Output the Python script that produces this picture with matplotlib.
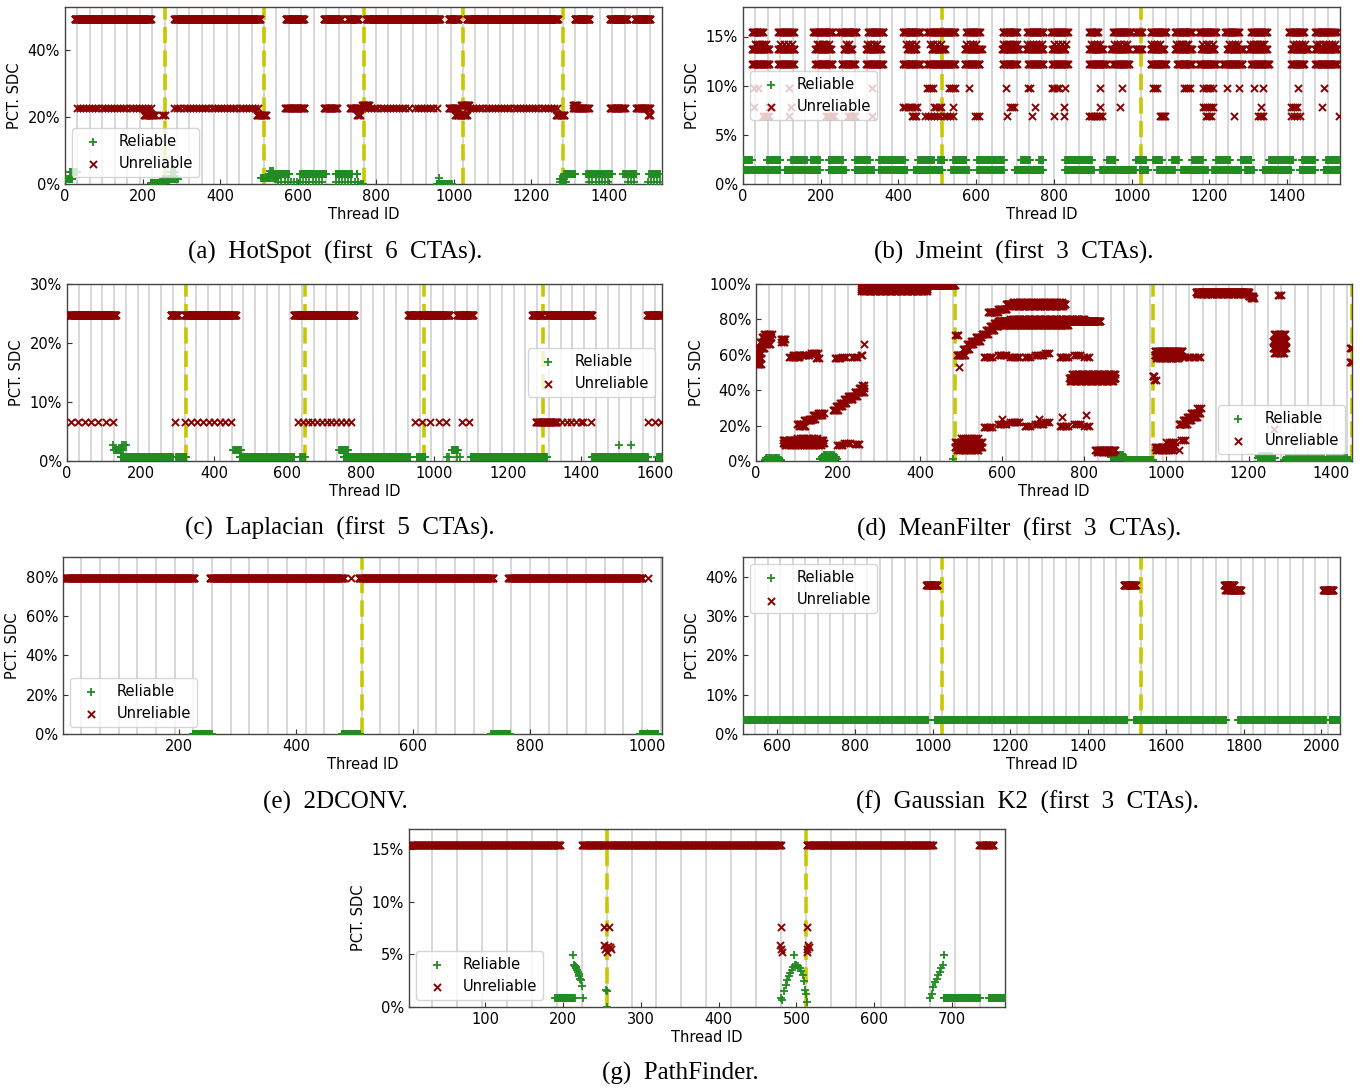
import numpy as np
import matplotlib
matplotlib.use("Agg")
import matplotlib.pyplot as plt
from matplotlib.ticker import PercentFormatter

# ---------------- DATA (runs: start thread, end thread, step, pct SDC) ----------------
# (a) HotSpot
HS_REL = [(0, 19, 1, 0.015), (253, 292, 2, 0.015), (13, 31, 3, 0.036), (272, 285, 3, 0.036),
          (220, 259, 1, 0.002), (504, 549, 3, 0.017), (528, 535, 3, 0.038),
          (524, 577, 1, 0.030), (605, 672, 1, 0.030), (697, 738, 1, 0.030), (750, 752, 1, 0.030),
          (549, 666, 8, 0.005), (697, 760, 8, 0.005), (956, 995, 1, 0.001), (762, 766, 1, 0.001),
          (962, 962, 1, 0.017), (1274, 1285, 2, 0.015), (1274, 1290, 4, 0.005),
          (1285, 1313, 1, 0.030), (1341, 1408, 1, 0.030), (1436, 1469, 1, 0.030), (1503, 1530, 1, 0.030),
          (1349, 1400, 8, 0.005), (1449, 1465, 8, 0.005), (1500, 1536, 8, 0.005)]
HS_UNREL = [(25, 220, 1, 0.495), (281, 502, 1, 0.495), (568, 614, 1, 0.495), (666, 711, 1, 0.495),
            (727, 755, 1, 0.495), (775, 964, 1, 0.495), (987, 1012, 1, 0.495), (1034, 1268, 1, 0.495),
            (1311, 1349, 1, 0.495), (1402, 1447, 1, 0.495), (1466, 1505, 1, 0.495),
            (30, 222, 8, 0.227), (281, 499, 8, 0.227), (772, 890, 8, 0.227), (900, 956, 8, 0.227),
            (1034, 1268, 8, 0.227),
            (566, 616, 2, 0.227), (666, 700, 2, 0.227), (733, 760, 2, 0.227), (987, 1012, 2, 0.227),
            (1307, 1347, 2, 0.227), (1402, 1441, 2, 0.227), (1469, 1505, 2, 0.227),
            (203, 231, 2, 0.207), (250, 256, 3, 0.207), (493, 518, 2, 0.207), (750, 760, 3, 0.207),
            (1004, 1034, 2, 0.207), (1263, 1285, 2, 0.207), (1500, 1505, 2, 0.207),
            (764, 783, 2, 0.238), (1020, 1040, 2, 0.238), (1307, 1318, 2, 0.238)]

# (b) Jmeint
JM_REL = [(0, 23, 2, 0.0245), (62, 96, 2, 0.0245), (124, 164, 2, 0.0245), (175, 197, 2, 0.0245),
          (220, 259, 2, 0.0245), (288, 327, 2, 0.0245), (350, 417, 2, 0.0245), (451, 491, 2, 0.0245),
          (502, 519, 2, 0.0245), (541, 575, 2, 0.0245), (603, 671, 2, 0.0245), (716, 739, 2, 0.0245),
          (761, 773, 2, 0.0245), (829, 897, 2, 0.0245), (936, 959, 2, 0.0245), (1010, 1038, 2, 0.0245),
          (1055, 1077, 2, 0.0245), (1105, 1122, 2, 0.0245), (1156, 1184, 2, 0.0245), (1218, 1252, 2, 0.0245),
          (1280, 1308, 2, 0.0245), (1354, 1416, 2, 0.0245), (1438, 1472, 2, 0.0245), (1500, 1534, 2, 0.0245),
          (0, 96, 1, 0.0142), (107, 197, 1, 0.0142), (220, 265, 1, 0.0142), (288, 338, 1, 0.0142),
          (350, 423, 1, 0.0142), (440, 513, 1, 0.0142), (536, 581, 1, 0.0142), (603, 671, 1, 0.0142),
          (699, 773, 1, 0.0142), (829, 902, 1, 0.0142), (919, 1010, 1, 0.0142), (1021, 1043, 1, 0.0142),
          (1066, 1111, 1, 0.0142), (1128, 1196, 1, 0.0142), (1207, 1280, 1, 0.0142), (1292, 1314, 1, 0.0142),
          (1337, 1410, 1, 0.0142), (1433, 1472, 1, 0.0142), (1495, 1534, 1, 0.0142)]
JM_UNREL = [(23, 51, 2, 0.155), (90, 130, 2, 0.155), (180, 231, 2, 0.155), (248, 293, 2, 0.155),
            (321, 361, 2, 0.155), (412, 457, 2, 0.155), (474, 547, 2, 0.155), (575, 609, 2, 0.155),
            (668, 705, 2, 0.155), (731, 773, 2, 0.155), (793, 835, 2, 0.155), (891, 914, 2, 0.155),
            (953, 998, 2, 0.155), (1010, 1026, 2, 0.155), (1049, 1089, 2, 0.155), (1111, 1156, 2, 0.155),
            (1173, 1218, 2, 0.155), (1241, 1275, 2, 0.155), (1308, 1348, 2, 0.155), (1404, 1444, 2, 0.155),
            (1472, 1523, 2, 0.155), (1529, 1529, 1, 0.155),
            (23, 68, 2, 0.137), (90, 132, 2, 0.137), (186, 226, 2, 0.137), (259, 282, 2, 0.137),
            (316, 355, 2, 0.137), (423, 446, 2, 0.137), (485, 519, 2, 0.137), (570, 615, 2, 0.137),
            (666, 711, 2, 0.137), (728, 773, 2, 0.137), (795, 829, 2, 0.137), (891, 925, 2, 0.137),
            (948, 993, 2, 0.137), (1010, 1026, 2, 0.137), (1049, 1083, 2, 0.137), (1111, 1156, 2, 0.137),
            (1179, 1213, 2, 0.137), (1246, 1286, 2, 0.137), (1303, 1348, 2, 0.137), (1410, 1455, 2, 0.137),
            (1472, 1528, 2, 0.137),
            (30, 60, 6, 0.142), (95, 125, 10, 0.142), (190, 225, 6, 0.142), (265, 280, 8, 0.142),
            (320, 350, 8, 0.142), (420, 445, 8, 0.142), (480, 510, 10, 0.142), (575, 600, 8, 0.142),
            (670, 710, 6, 0.142), (730, 770, 8, 0.142), (800, 830, 10, 0.142), (895, 920, 8, 0.142),
            (955, 990, 8, 0.142), (1050, 1080, 8, 0.142), (1115, 1150, 6, 0.142), (1180, 1210, 10, 0.142),
            (1250, 1280, 8, 0.142), (1305, 1345, 6, 0.142), (1415, 1450, 8, 0.142), (1475, 1525, 8, 0.142),
            (23, 68, 2, 0.122), (90, 130, 2, 0.122), (186, 231, 2, 0.122), (254, 288, 2, 0.122),
            (316, 361, 2, 0.122), (412, 457, 2, 0.122), (474, 547, 2, 0.122), (570, 609, 2, 0.122),
            (668, 705, 2, 0.122), (733, 773, 2, 0.122), (795, 835, 2, 0.122), (891, 936, 2, 0.122),
            (953, 993, 2, 0.122), (1049, 1089, 2, 0.122), (1117, 1156, 2, 0.122), (1173, 1218, 2, 0.122),
            (1235, 1286, 2, 0.122), (1308, 1354, 2, 0.122), (1410, 1444, 2, 0.122), (1472, 1528, 2, 0.122),
            (28, 39, 11, 0.098), (118, 118, 1, 0.098), (333, 333, 1, 0.098), (474, 491, 5, 0.098),
            (530, 547, 5, 0.098), (581, 581, 1, 0.098), (677, 677, 1, 0.098), (733, 739, 6, 0.098),
            (795, 813, 6, 0.098), (829, 829, 1, 0.098), (919, 919, 1, 0.098), (976, 976, 1, 0.098),
            (1055, 1066, 5, 0.098), (1134, 1151, 5, 0.098), (1184, 1213, 6, 0.098), (1246, 1246, 1, 0.098),
            (1275, 1275, 1, 0.098), (1314, 1314, 1, 0.098), (1337, 1337, 1, 0.098), (1427, 1427, 1, 0.098),
            (1495, 1495, 1, 0.098),
            (28, 68, 40, 0.078), (124, 124, 1, 0.078), (412, 451, 6, 0.078), (491, 513, 6, 0.078),
            (541, 541, 1, 0.078), (688, 699, 4, 0.078), (750, 750, 1, 0.078), (826, 826, 1, 0.078),
            (919, 919, 1, 0.078), (970, 970, 1, 0.078), (1184, 1213, 5, 0.078), (1333, 1333, 1, 0.078),
            (1410, 1427, 5, 0.078), (1489, 1489, 1, 0.078),
            (51, 68, 4, 0.069), (118, 118, 1, 0.069), (214, 237, 5, 0.069), (271, 288, 4, 0.069),
            (333, 333, 1, 0.069), (434, 446, 4, 0.069), (468, 547, 8, 0.069), (598, 609, 4, 0.069),
            (680, 680, 1, 0.069), (744, 744, 1, 0.069), (801, 801, 1, 0.069), (826, 826, 1, 0.069),
            (891, 925, 4, 0.069), (1072, 1089, 3, 0.069), (1190, 1207, 5, 0.069), (1263, 1263, 1, 0.069),
            (1325, 1337, 4, 0.069), (1410, 1438, 8, 0.069), (1534, 1534, 1, 0.069)]

# (c) Laplacian
LP_REL = [(126, 126, 1, 0.027), (150, 161, 5, 0.027), (1502, 1502, 1, 0.027), (1535, 1535, 1, 0.027),
          (129, 153, 2, 0.019), (453, 474, 2, 0.019), (741, 765, 2, 0.019), (1047, 1065, 2, 0.019),
          (147, 288, 1, 0.006), (298, 324, 1, 0.006), (470, 618, 1, 0.006), (635, 647, 3, 0.006),
          (753, 935, 1, 0.006), (953, 976, 1, 0.006), (1035, 1041, 6, 0.006), (1062, 1070, 8, 0.006),
          (1100, 1306, 1, 0.006), (1429, 1582, 1, 0.006), (1606, 1618, 2, 0.006)]
LP_UNREL = [(6, 133, 1, 0.247), (282, 302, 1, 0.247), (321, 459, 1, 0.247), (618, 782, 1, 0.247),
            (929, 956, 1, 0.247), (965, 1041, 1, 0.247), (1062, 1106, 1, 0.247), (1267, 1294, 1, 0.247),
            (1306, 1429, 1, 0.247), (1580, 1618, 1, 0.247),
            (12, 84, 18, 0.066), (106, 124, 18, 0.066), (294, 294, 1, 0.066), (321, 353, 16, 0.066),
            (371, 459, 15, 0.066), (629, 782, 13, 0.066), (947, 994, 20, 0.066), (1012, 1035, 20, 0.066),
            (1076, 1094, 18, 0.066), (1276, 1335, 2, 0.066), (1347, 1400, 13, 0.066),
            (1406, 1429, 20, 0.066), (1582, 1618, 18, 0.066)]

# (d) MeanFilter
MF_REL = [(22, 60, 1, 0.005), (25, 55, 3, 0.015), (156, 198, 1, 0.01), (160, 195, 2, 0.025),
          (165, 190, 3, 0.035), (481, 481, 1, 0.01), (865, 900, 1, 0.02), (870, 895, 2, 0.035),
          (900, 966, 1, 0.005), (1222, 1265, 2, 0.015), (1225, 1260, 3, 0.03),
          (1287, 1446, 1, 0.005), (1290, 1440, 5, 0.015)]
MF_UNREL = [(0, 12, 2, 0.55), (0, 12, 2, 0.58), (2, 12, 3, 0.61),
            (6, 20, 2, 0.64), (10, 30, 2, 0.67), (14, 36, 2, 0.70), (20, 38, 3, 0.72), (22, 36, 3, 0.66),
            (62, 70, 2, 0.69), (62, 70, 3, 0.67),
            (81, 105, 3, 0.59), (90, 130, 3, 0.60), (135, 150, 3, 0.61), (145, 156, 4, 0.58),
            (65, 165, 2, 0.10), (65, 165, 3, 0.12), (70, 160, 4, 0.09), (100, 150, 6, 0.13),
            (100, 115, 2, 0.21), (105, 120, 3, 0.20), (118, 135, 2, 0.23), (130, 145, 2, 0.24),
            (140, 160, 2, 0.26), (150, 166, 3, 0.27),
            (193, 205, 3, 0.58), (210, 220, 5, 0.59), (235, 250, 4, 0.59), (255, 262, 4, 0.60),
            (187, 200, 2, 0.29), (195, 210, 2, 0.31), (205, 220, 2, 0.33), (215, 235, 2, 0.35),
            (225, 245, 2, 0.37), (240, 262, 2, 0.39), (250, 262, 3, 0.41), (258, 262, 4, 0.43),
            (198, 210, 4, 0.09), (215, 230, 5, 0.10), (240, 252, 4, 0.095), (262, 262, 1, 0.66),
            (257, 417, 1, 0.97), (257, 417, 2, 0.985), (257, 417, 3, 0.96), (417, 484, 1, 0.995),
            (486, 492, 3, 0.71), (490, 497, 3, 0.60), (494, 494, 1, 0.53),
            (484, 550, 2, 0.08), (484, 550, 3, 0.11), (490, 545, 4, 0.06), (500, 540, 5, 0.13),
            (495, 510, 2, 0.60), (505, 520, 2, 0.63), (515, 530, 2, 0.66), (525, 545, 2, 0.68),
            (535, 550, 2, 0.70), (550, 565, 2, 0.72), (560, 580, 2, 0.74), (570, 590, 2, 0.76),
            (580, 603, 2, 0.78),
            (590, 838, 1, 0.79), (600, 760, 2, 0.77), (620, 800, 3, 0.80),
            (565, 590, 2, 0.84), (590, 610, 2, 0.86), (610, 753, 1, 0.885), (620, 750, 3, 0.875),
            (625, 745, 4, 0.90),
            (555, 575, 4, 0.59), (590, 610, 4, 0.60), (620, 640, 4, 0.59), (655, 670, 4, 0.585),
            (680, 700, 4, 0.60), (705, 715, 5, 0.61), (740, 760, 4, 0.585), (775, 790, 5, 0.60),
            (800, 817, 6, 0.59),
            (555, 575, 4, 0.19), (590, 610, 4, 0.21), (620, 640, 4, 0.22), (655, 670, 4, 0.20),
            (680, 700, 4, 0.21), (705, 715, 5, 0.22), (740, 760, 4, 0.20), (775, 790, 5, 0.21),
            (800, 817, 6, 0.20), (600, 600, 1, 0.24), (690, 690, 1, 0.24), (745, 745, 1, 0.25),
            (805, 805, 1, 0.26),
            (763, 875, 1, 0.47), (765, 870, 3, 0.45), (770, 875, 3, 0.49),
            (827, 875, 2, 0.06), (830, 870, 4, 0.05),
            (966, 970, 2, 0.48), (970, 975, 4, 0.46),
            (971, 1030, 1, 0.60), (971, 1040, 2, 0.62), (975, 1030, 3, 0.58), (1040, 1083, 6, 0.59),
            (971, 1019, 3, 0.08), (975, 1015, 4, 0.06), (1000, 1020, 5, 0.11),
            (1030, 1050, 2, 0.21), (1040, 1060, 2, 0.23), (1050, 1075, 2, 0.25), (1060, 1083, 2, 0.27),
            (1075, 1083, 4, 0.30), (1035, 1045, 5, 0.12), (1030, 1030, 1, 0.06),
            (1072, 1200, 1, 0.955), (1075, 1200, 3, 0.945), (1200, 1210, 2, 0.93), (1205, 1215, 3, 0.92),
            (1259, 1291, 2, 0.64), (1259, 1291, 2, 0.68), (1262, 1290, 3, 0.72), (1262, 1288, 3, 0.61),
            (1265, 1285, 4, 0.66), (1272, 1278, 3, 0.94), (1262, 1262, 1, 0.18),
            (1448, 1452, 2, 0.56), (1448, 1452, 2, 0.64)]

# (e) 2DCONV
CV_REL = [(223, 256, 1, 0.0), (478, 510, 1, 0.0), (733, 766, 1, 0.0), (988, 1020, 1, 0.0)]
CV_UNREL = [(4, 226, 1, 0.795), (252, 481, 1, 0.795), (494, 494, 1, 0.795), (507, 737, 1, 0.795),
            (763, 992, 1, 0.795), (1002, 1002, 1, 0.795)]

# (f) Gaussian K2
GS_REL = [(512, 989, 1, 0.036), (1006, 1500, 1, 0.036), (1517, 1755, 1, 0.036),
          (1786, 2011, 1, 0.036), (2022, 2048, 1, 0.036)]
GS_UNREL = [(984, 1012, 1, 0.379), (1492, 1522, 1, 0.379), (1750, 1775, 1, 0.379),
            (1752, 1775, 2, 0.367), (1775, 1792, 1, 0.367), (2005, 2030, 1, 0.367)]

# (g) PathFinder
PF_REL = [(190, 215, 1, 0.009), (689, 736, 1, 0.009), (747, 770, 1, 0.009)]
PF_REL_PTS = [(213, 0.049), (214, 0.040), (215, 0.039), (216, 0.038), (217, 0.037), (218, 0.035),
              (219, 0.033), (220, 0.031), (221, 0.029), (222, 0.027), (223, 0.026), (224, 0.020),
              (225, 0.009), (255, 0.016), (256, 0.015), (257, 0.0),
              (480, 0.009), (482, 0.007), (484, 0.015), (486, 0.021), (488, 0.026), (490, 0.029),
              (492, 0.032), (494, 0.035), (496, 0.038), (497, 0.049), (498, 0.040), (500, 0.040),
              (502, 0.039), (504, 0.037), (506, 0.034), (508, 0.030), (510, 0.025), (511, 0.016),
              (512, 0.012), (513, 0.005),
              (672, 0.009), (674, 0.012), (676, 0.019), (678, 0.024), (680, 0.027), (682, 0.030),
              (684, 0.033), (686, 0.037), (688, 0.040), (689, 0.049)]
PF_UNREL = [(4, 196, 1, 0.154), (224, 254, 1, 0.154), (257, 480, 1, 0.154), (513, 675, 1, 0.154),
            (735, 753, 1, 0.154)]
PF_UNREL_PTS = [(252, 0.059), (254, 0.055), (256, 0.052), (258, 0.058), (260, 0.057), (262, 0.055),
                (253, 0.076), (259, 0.076), (480, 0.076), (479, 0.059), (480, 0.055), (481, 0.052),
                (513, 0.076), (514, 0.055), (515, 0.059), (516, 0.057), (513, 0.052)]

CAPTIONS = ["(a) HotSpot (first 6 CTAs).", "(b) Jmeint (first 3 CTAs).",
            "(c) Laplacian (first 5 CTAs).", "(d) MeanFilter (first 3 CTAs).",
            "(e) 2DCONV.", "(f) Gaussian K2 (first 3 CTAs).", "(g) PathFinder."]
WARP = 32

# ---------------- helpers ----------------
def expand(runs, pts=None):
    xs, ys = [], []
    for s, e, st, v in runs:
        t = np.arange(s, e + 1, st)
        xs.append(t)
        ys.append(np.full(t.shape, v, dtype=float))
    if pts:
        xs.append(np.array([p[0] for p in pts]))
        ys.append(np.array([p[1] for p in pts]))
    return np.concatenate(xs), np.concatenate(ys)

GREEN = "#228b22"
RED = "#8b0000"
YEL = "#c8c800"

fig = plt.figure(figsize=(13.66, 10.91), dpi=100)
W, H = 1366.0, 1091.0

def make_ax(x0, x1, y0, y1):
    return fig.add_axes([x0 / W, 1 - y1 / H, (x1 - x0) / W, (y1 - y0) / H])

def panel(box, rel, unrel, xlim, ylim, yticks, xticks, ctas, legloc,
          rel_pts=None, unrel_pts=None):
    ax = make_ax(*box)
    for g in np.arange(0, xlim[1] + 1, WARP):
        if xlim[0] < g < xlim[1]:
            ax.axvline(g, color="#d4d4d4", lw=1.3, zorder=1)
    for c in ctas:
        ax.axvline(c, color=YEL, lw=2.6, dashes=(4.5, 2.0), zorder=2)
    rx, ry = expand(rel, rel_pts)
    ux, uy = expand(unrel, unrel_pts)
    ax.scatter(rx, ry, marker="+", s=30, c=GREEN, linewidths=1.3, zorder=3, label="Reliable")
    ax.scatter(ux, uy, marker="x", s=26, c=RED, linewidths=1.4, zorder=3, label="Unreliable")
    ax.set_xlim(*xlim)
    ax.set_ylim(*ylim)
    ax.set_yticks(yticks)
    ax.set_xticks(xticks)
    ax.yaxis.set_major_formatter(PercentFormatter(xmax=1, decimals=0))
    ax.tick_params(direction="in", length=3.5, width=0.8, labelsize=10.5, colors="#333333",
                   labelcolor="black")
    for sp in ax.spines.values():
        sp.set_color("#444444")
        sp.set_linewidth(1.0)
    ax.set_xlabel("Thread ID", fontsize=10.5, labelpad=2)
    ax.set_ylabel("PCT. SDC", fontsize=10.5)
    ax.legend(loc=legloc, fontsize=10.5, framealpha=0.8, borderpad=0.4)
    return ax

panel((65, 662, 7, 184), HS_REL, HS_UNREL, (0, 1536), (0, 0.53), [0, 0.2, 0.4],
      np.arange(0, 1401, 200), [256, 512, 768, 1024, 1280], "lower left")
panel((743, 1340, 7, 184), JM_REL, JM_UNREL, (0, 1536), (0, 0.18), [0, 0.05, 0.10, 0.15],
      np.arange(0, 1401, 200), [512, 1024], "center left")
panel((67, 662, 284, 461), LP_REL, LP_UNREL, (0, 1620), (0, 0.30), [0, 0.1, 0.2, 0.3],
      np.arange(0, 1601, 200), [324, 648, 972, 1296], "center right")
panel((756, 1352, 284, 461), MF_REL, MF_UNREL, (0, 1452), (0, 1.0), [0, 0.2, 0.4, 0.6, 0.8, 1.0],
      np.arange(0, 1401, 200), [484, 968, 1452], "lower right")
panel((63, 662, 557, 734), CV_REL, CV_UNREL, (1, 1026), (0, 0.9), [0, 0.2, 0.4, 0.6, 0.8],
      np.arange(200, 1001, 200), [512], "lower left")
panel((743, 1340, 557, 734), GS_REL, GS_UNREL, (512, 2048), (0, 0.45), [0, 0.1, 0.2, 0.3, 0.4],
      np.arange(600, 2001, 200), [1024, 1536], "upper left")
panel((409, 1005, 829, 1007), PF_REL, PF_UNREL, (2, 768), (0, 0.169), [0, 0.05, 0.10, 0.15],
      np.arange(100, 701, 100), [256, 512], "lower left", rel_pts=PF_REL_PTS, unrel_pts=PF_UNREL_PTS)

cap_pos = [(335, 252), (1014, 252), (340, 528), (1019, 529), (335, 802), (1027, 802), (680, 1073)]
for (cx, cy), txt in zip(cap_pos, CAPTIONS):
    fig.text(cx / W, 1 - cy / H, txt.replace(" ", "  "), ha="center", va="center",
             fontsize=18, family="Liberation Serif")

fig.savefig("out.png", dpi=100)
